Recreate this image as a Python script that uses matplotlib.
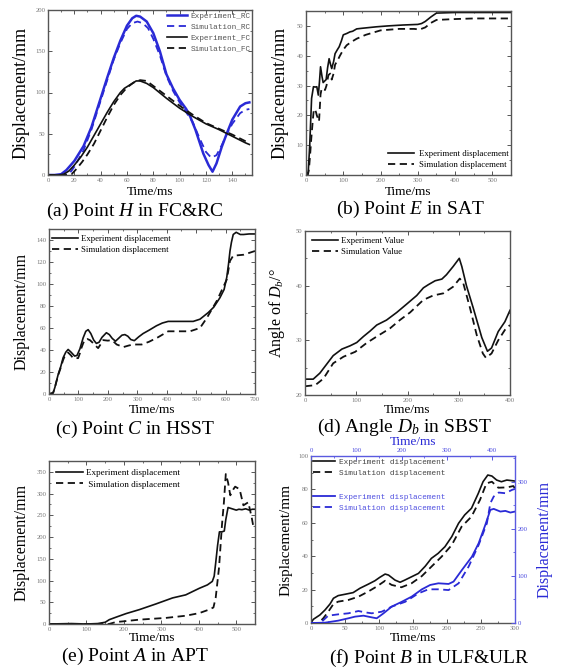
import matplotlib
matplotlib.use("Agg")
import matplotlib.pyplot as plt
from matplotlib.ticker import MultipleLocator

plt.rcParams['font.family'] = ['Liberation Serif', 'DejaVu Serif']
plt.rcParams['mathtext.fontset'] = 'custom'
plt.rcParams['mathtext.rm'] = 'Liberation Serif'
plt.rcParams['mathtext.it'] = 'Liberation Serif:italic'

# ---------------- data ----------------
# (a) Point H in FC&RC
a_t_exp_rc = [0, 5, 10, 14, 20, 27, 33, 39, 45, 50, 55, 60, 64, 67, 70, 75, 80, 85, 90, 95, 100, 105, 108, 112, 118, 122, 125, 128, 132, 136, 140, 146, 150, 153]
a_exp_rc = [0, 0, 1, 6, 17, 35, 58, 88, 118, 142, 163, 181, 190, 193, 192, 186, 172, 150, 122, 105, 91, 80, 71, 55, 26, 12, 4, 14, 34, 51, 67, 83, 87, 88]
a_t_sim_rc = [0, 5, 10, 16, 20, 27, 33, 39, 45, 50, 55, 60, 64, 68, 72, 76, 80, 85, 90, 95, 100, 105, 110, 115, 120, 124, 128, 132, 136, 140, 146, 150, 153]
a_sim_rc = [0, 0, 0, 1, 10, 30, 55, 85, 115, 140, 160, 177, 184, 186, 184, 178, 165, 145, 120, 102, 88, 76, 64, 45, 28, 21, 24, 36, 50, 62, 75, 79, 80]
a_t_exp_fc = [0, 8, 12, 16, 20, 25, 30, 35, 40, 45, 50, 55, 58, 62, 67, 70, 75, 80, 90, 100, 110, 120, 130, 140, 150, 153]
a_exp_fc = [0, 0, 1, 5, 12, 22, 34, 48, 62, 76, 89, 100, 105, 109, 114, 114, 111, 106, 93, 81, 71, 62, 55, 47, 39, 37]
a_t_sim_fc = [0, 15, 18, 22, 26, 30, 35, 40, 45, 50, 55, 60, 65, 70, 75, 80, 90, 100, 110, 120, 130, 140, 150, 153]
a_sim_fc = [0, 0, 1, 8, 16, 25, 38, 54, 70, 85, 97, 106, 112, 115, 114, 108, 96, 84, 73, 63, 56, 49, 41, 39]

# (b) Point E in SAT
b_t_exp = [0, 3, 6, 10, 15, 20, 25, 29, 33, 36, 39, 43, 46, 50, 54, 58, 62, 66, 69, 74, 78, 84, 89, 95, 100, 110, 118, 125, 136, 150, 189, 220, 260, 300, 310, 320, 335, 350, 400, 450, 500, 550]
b_exp = [0, 0.5, 1, 10, 25.7, 29.6, 29.5, 29.6, 26.8, 31, 36.3, 33, 31, 31.5, 32, 36, 39, 37, 35.7, 38, 40.7, 42, 43, 45, 47, 47.5, 48, 48.2, 49, 49.2, 49.7, 50, 50.3, 50.5, 50.8, 51.5, 53, 54.3, 54.5, 54.5, 54.5, 54.5]
b_t_sim = [0, 5, 8, 11, 14, 18, 21, 24, 27, 29, 32, 35, 39, 42, 45, 51, 55, 60, 65, 69, 74, 78, 85, 91, 100, 109, 120, 136, 160, 200, 250, 290, 305, 320, 335, 350, 400, 450, 500, 550]
b_sim = [0, 0, 2, 6.7, 12, 18, 22, 22, 21, 20, 19, 18, 27, 29, 29, 28.5, 30, 33.5, 34, 32, 34, 37, 38.5, 40, 42, 43.5, 44.5, 45.7, 47, 48.5, 49, 49, 48.8, 49.5, 51, 52, 52.3, 52.5, 52.5, 52.5]

# (c) Point C in HSST
c_t_exp = [0, 14, 20, 31, 40, 48, 57, 65, 75, 87, 95, 105, 116, 125, 133, 142, 152, 161, 170, 180, 195, 205, 215, 226, 238, 248, 258, 268, 278, 290, 305, 320, 340, 365, 385, 405, 450, 490, 513, 541, 560, 581, 595, 604, 610, 615, 620, 626, 636, 650, 661, 680, 700]
c_exp = [0, 1, 6, 17.6, 25, 33, 38, 40.5, 38, 34.5, 35, 41, 51, 57, 58.5, 55, 49, 46, 47, 51.5, 55.7, 54, 50.5, 48, 51, 53.5, 54, 52.5, 49.5, 48.5, 52, 55, 58, 62, 64.5, 66, 66, 66, 68, 74, 79, 87.6, 95, 106, 118, 130, 138, 145, 147, 145, 145, 145.5, 145.5]
c_t_sim = [0, 14, 20, 31, 40, 48, 53, 59, 65, 75, 82, 99, 105, 110, 116, 121, 130, 139, 147, 155, 167, 175, 184, 200, 213, 222, 230, 240, 252, 270, 286, 315, 340, 370, 405, 440, 479, 513, 536, 570, 604, 615, 626, 661, 700]
c_sim = [0, 1, 6, 17, 24, 31, 34, 36, 37.7, 35, 32.6, 32.6, 37, 41.7, 46, 49, 50, 49, 47, 44.7, 41.7, 45, 49, 48.5, 49, 47, 45, 44, 42.6, 44, 45, 45, 47.5, 51.5, 57, 57, 57, 60, 69, 84.6, 104, 121, 125.7, 126.6, 130]

# (d) Angle Db in SBST
d_t_exp = [0, 16, 29, 42, 55, 72, 88, 101, 114, 127, 140, 159, 179, 198, 218, 231, 241, 254, 267, 276, 289, 301, 306, 315, 328, 345, 356, 364, 377, 390, 400]
d_exp = [22.9, 22.9, 24, 25.6, 27.2, 28.4, 29, 29.6, 30.7, 31.7, 32.8, 33.7, 35.1, 36.6, 38.2, 39.6, 40.2, 40.9, 41.2, 42, 43.5, 45, 43.5, 40, 36, 30.5, 28, 28.6, 31.6, 33.4, 35.5]
d_t_sim = [0, 20, 36, 55, 75, 98, 120, 140, 166, 185, 205, 231, 250, 270, 289, 302, 309, 322, 335, 347, 353, 364, 377, 390, 400]
d_sim = [21.6, 21.8, 23, 25.8, 27, 27.9, 29.5, 30.7, 32.2, 33.7, 35.1, 37.4, 38.2, 38.6, 39.8, 41.3, 40.4, 35.9, 31, 27.6, 26.8, 27.6, 30, 31.9, 32.8]

# (e) Point A in APT
e_t_exp = [0, 60, 100, 130, 150, 161, 180, 206, 241, 285, 330, 365, 401, 423, 436, 441, 445, 450, 455, 462, 468, 472, 478, 489, 500, 507, 515, 525, 535, 543, 550]
e_exp = [0, 1, 0, 1, 4, 10, 16, 24, 33, 46, 60, 67, 82, 90, 98, 110, 140, 180, 212, 212, 214, 240, 268, 265, 262, 264, 263, 265, 262, 264, 264]
e_t_sim = [0, 160, 179, 197, 241, 312, 365, 401, 427, 439, 445, 454, 462, 467, 472, 478, 484, 493, 497, 509, 519, 532, 541, 545, 550]
e_sim = [0, 0, 4.6, 6, 10, 14, 19, 25, 33, 38, 60, 130, 230, 280, 345, 326, 296, 311, 316, 310, 273, 280, 246, 227, 235]

# (f) Point B in ULF&ULR  (black: bottom/left axes; blue: top/right axes)
f_t_exp_k = [0, 3.4, 13, 20.6, 28, 33, 40, 50, 62, 72, 84, 94, 101, 109, 114, 123.5, 131, 138, 148, 158, 168, 177, 187, 197, 207, 217, 226, 236, 246, 253, 260, 266, 273, 280, 288, 300]
f_exp_k = [0, 2.2, 4.8, 7.8, 11.4, 14.8, 16.4, 17.2, 18.2, 20.8, 23.2, 25.3, 27.3, 29.3, 28.7, 25.7, 24.4, 25.7, 27.7, 29.7, 34, 38.7, 41.7, 45.7, 51.7, 59.7, 64.7, 68.7, 77.6, 84.6, 88.6, 88, 85.6, 84.6, 85.6, 85]
f_t_sim_k = [0, 11, 18, 25.5, 33, 40, 55, 70, 84, 96.5, 109, 118.6, 133, 148, 163, 177, 192, 207, 221.5, 236, 248.5, 258, 266, 275.5, 288, 297.5, 300]
f_sim_k = [0, 0, 2.8, 6.8, 11.4, 12.8, 13.8, 15.8, 18.8, 21.8, 25.3, 22.8, 21.4, 23.8, 28.1, 33.7, 39.7, 46.7, 57.7, 63.7, 73.7, 83.6, 84.6, 81, 81.2, 82, 80.6]
f_t_exp_b = [0, 31, 60, 82.5, 97, 115.7, 134, 145, 160, 178, 200, 222, 244.6, 263, 281, 303.5, 314.5, 333, 355, 369.8, 384.5, 395.6, 403, 417.7, 428.7, 439.8, 450]
f_exp_b = [0, 0.7, 5, 10, 13.5, 15.6, 12, 10, 20.6, 34.8, 45, 56, 71.6, 80.9, 84.4, 83, 88, 112.8, 141, 169.5, 208.5, 240.4, 242.6, 236.9, 238.3, 234.8, 236.9]
f_t_sim_b = [0, 15, 23.6, 38, 60, 82.5, 104.6, 119, 134, 156, 178, 207.7, 237, 259, 281, 303.5, 325.6, 347.7, 369.8, 388, 395.6, 403, 414, 428.7, 443.5, 450]
f_sim_b = [0, 0, 2.8, 15.6, 18.4, 20.6, 25.5, 22.7, 20.6, 24, 34.8, 45, 63, 71.6, 71.6, 70, 84.4, 119.9, 166, 212, 254.6, 268.8, 277.3, 275.9, 283, 285]

# ---------------- layout helpers ----------------
W, H = 564, 672
fig = plt.figure(figsize=(W / 100, H / 100), dpi=100)

BLUE = '#2a2ad6'
SPINE = '#555555'
TICKC = '#777777'
DASH = (0, (4, 2.5))


def add_ax(l, r, t, b):
    return fig.add_axes([l / W, 1 - b / H, (r - l) / W, (b - t) / H])


def style(ax, xlim, ylim, xmaj, ymaj, xmin=None, ymin=None):
    ax.set_xlim(*xlim)
    ax.set_ylim(*ylim)
    ax.xaxis.set_major_locator(MultipleLocator(xmaj))
    ax.yaxis.set_major_locator(MultipleLocator(ymaj))
    if xmin:
        ax.xaxis.set_minor_locator(MultipleLocator(xmin))
    if ymin:
        ax.yaxis.set_minor_locator(MultipleLocator(ymin))
    for s in ax.spines.values():
        s.set_color(SPINE)
        s.set_linewidth(1.0)
    ax.tick_params(which='both', direction='in', top=True, right=True,
                   color=SPINE, labelsize=4.8, labelcolor=TICKC, pad=2)
    ax.tick_params(which='major', length=3, width=0.7)
    ax.tick_params(which='minor', length=1.6, width=0.6)


def xlabel(ax, y_px, size=9.5):
    bb = ax.get_position()
    fig.text(bb.x0 + bb.width / 2, 1 - y_px / H, 'Time/ms', ha='center', va='center', fontsize=size)


def caption(x_px, y_px, txt):
    fig.text(x_px / W, 1 - y_px / H, txt, ha='center', va='center', fontsize=14)


# ---------------- (a) ----------------
ax = add_ax(48, 252, 10, 175)
ax.plot(a_t_exp_rc, a_exp_rc, color=BLUE, lw=1.8, label='Experiment_RC')
ax.plot(a_t_sim_rc, a_sim_rc, color=BLUE, lw=1.3, ls=DASH, label='Simulation_RC')
ax.plot(a_t_exp_fc, a_exp_fc, color='#111111', lw=1.2, label='Experiment_FC')
ax.plot(a_t_sim_fc, a_sim_fc, color='#111111', lw=1.3, ls=DASH, label='Simulation_FC')
style(ax, (0, 155), (0, 200), 20, 50, 10, 25)
ax.set_ylabel('Displacement/mm', fontsize=13, labelpad=4)
leg = ax.legend(loc='upper left', bbox_to_anchor=(0.57, 1.0), frameon=False,
                prop={'family': 'Liberation Mono', 'size': 5.6}, handlelength=2.6,
                handletextpad=0.5, labelspacing=0.45, borderpad=0.3, borderaxespad=0)
for t in leg.get_texts():
    t.set_color('#555555')
xlabel(ax, 192)
caption(135, 211, r'(a) Point $\mathit{H}$ in FC&RC')

# ---------------- (b) ----------------
ax = add_ax(306, 511, 11, 175)
ax.plot(b_t_exp, b_exp, color='#111111', lw=1.2, label='Experiment displacement')
ax.plot(b_t_sim, b_sim, color='#111111', lw=1.3, ls=DASH, label='Simulation displacement')
style(ax, (0, 550), (0, 55), 100, 10, 50, 5)
ax.set_ylabel('Displacement/mm', fontsize=13, labelpad=6)
ax.legend(loc='lower right', bbox_to_anchor=(1.0, 0.02), frameon=False,
          prop={'size': 6.3}, handlelength=3.0, handletextpad=0.5,
          labelspacing=0.35, borderpad=0.3, borderaxespad=0)
xlabel(ax, 192)
caption(410, 209, r'(b) Point $\mathit{E}$ in SAT')

# ---------------- (c) ----------------
ax = add_ax(49, 255, 229, 394)
ax.plot(c_t_exp, c_exp, color='#111111', lw=1.2, label='Experiment displacement')
ax.plot(c_t_sim, c_sim, color='#111111', lw=1.3, ls=DASH, label='Simulation displacement')
style(ax, (0, 700), (0, 150), 100, 20, 50, 10)
ax.set_ylabel('Displacement/mm', fontsize=11.5, labelpad=5)
ax.legend(loc='upper left', bbox_to_anchor=(0.0, 0.98), frameon=False,
          prop={'size': 6.3}, handlelength=3.0, handletextpad=0.4,
          labelspacing=0.35, borderpad=0.3, borderaxespad=0)
xlabel(ax, 410)
caption(135, 429, r'(c) Point $\mathit{C}$ in HSST')

# ---------------- (d) ----------------
ax = add_ax(305, 510, 231, 395)
ax.plot(d_t_exp, d_exp, color='#111111', lw=1.2, label='Experiment Value')
ax.plot(d_t_sim, d_sim, color='#111111', lw=1.3, ls=DASH, label='Simulation Value')
style(ax, (0, 400), (20, 50), 100, 10, 50, 5)
ax.set_ylabel(r'Angle of $\mathit{D_b}$/°', fontsize=11.5, labelpad=6)
ax.legend(loc='upper left', bbox_to_anchor=(0.02, 0.98), frameon=False,
          prop={'size': 6.3}, handlelength=3.0, handletextpad=0.3,
          labelspacing=0.35, borderpad=0.3, borderaxespad=0)
xlabel(ax, 410)
caption(404, 427, r'(d) Angle $\mathit{D_b}$ in SBST')

# ---------------- (e) ----------------
ax = add_ax(49, 255, 461, 624)
ax.plot(e_t_exp, e_exp, color='#111111', lw=1.2, label='Experiment displacement')
ax.plot(e_t_sim, e_sim, color='#111111', lw=1.3, ls=DASH, label=' Simulation displacement')
style(ax, (0, 550), (0, 375), 100, 50, 50, 25)
ax.set_ylabel('Displacement/mm', fontsize=11.5, labelpad=5)
ax.legend(loc='upper left', bbox_to_anchor=(0.02, 0.97), frameon=False,
          prop={'size': 6.6}, handlelength=3.0, handletextpad=0.3,
          labelspacing=0.35, borderpad=0.3, borderaxespad=0)
xlabel(ax, 638)
caption(135, 656, r'(e) Point $\mathit{A}$ in APT')

# ---------------- (f) ----------------
ax = add_ax(311, 515, 456, 623)
k1, = ax.plot(f_t_exp_k, f_exp_k, color='#111111', lw=1.2, label='Experiment displacement')
k2, = ax.plot(f_t_sim_k, f_sim_k, color='#111111', lw=1.3, ls=DASH, label='Simulation displacement')
style(ax, (0, 300), (0, 100), 50, 20, 25, 10)
ax.tick_params(which='both', top=False, right=False)
ax.spines['top'].set_visible(False)
ax.spines['right'].set_visible(False)
ax.set_ylabel('Displacement/mm', fontsize=11, labelpad=4)

axb = fig.add_axes(ax.get_position(), frameon=True)
axb.patch.set_alpha(0)
b1, = axb.plot(f_t_exp_b, f_exp_b, color=BLUE, lw=1.3, label='Experiment displacement')
b2, = axb.plot(f_t_sim_b, f_sim_b, color=BLUE, lw=1.3, ls=DASH, label='Simulation displacement')
axb.set_xlim(0, 450)
axb.set_ylim(0, 355)
axb.xaxis.set_major_locator(MultipleLocator(100))
axb.yaxis.set_major_locator(MultipleLocator(100))
axb.xaxis.set_minor_locator(MultipleLocator(50))
axb.yaxis.set_minor_locator(MultipleLocator(50))
axb.xaxis.tick_top()
axb.yaxis.tick_right()
axb.xaxis.set_label_position('top')
axb.yaxis.set_label_position('right')
for side in ('left', 'bottom'):
    axb.spines[side].set_visible(False)
for side in ('top', 'right'):
    axb.spines[side].set_color('#5a5ae0')
    axb.spines[side].set_linewidth(1.0)
axb.tick_params(which='both', direction='in', color='#5a5ae0', labelsize=4.8,
                labelcolor='#4848e0', pad=2)
axb.tick_params(which='major', length=3, width=0.7)
axb.tick_params(which='minor', length=1.6, width=0.6)
axb.set_ylabel('Displacement/mm', fontsize=11.5, color=BLUE, labelpad=6)
axb.set_xlabel('Time/ms', fontsize=9.5, color=BLUE, labelpad=2)

lk = axb.legend(handles=[k1, k2], loc='upper left', bbox_to_anchor=(0.0, 1.0), frameon=False,
                prop={'family': 'Liberation Mono', 'size': 5.6}, handlelength=2.8,
                handletextpad=0.5, labelspacing=0.45, borderpad=0.3, borderaxespad=0)
for t in lk.get_texts():
    t.set_color('#444444')
axb.add_artist(lk)
lb = axb.legend(handles=[b1, b2], loc='upper left', bbox_to_anchor=(0.0, 0.79), frameon=False,
                prop={'family': 'Liberation Mono', 'size': 5.6}, handlelength=2.8,
                handletextpad=0.5, labelspacing=0.45, borderpad=0.3, borderaxespad=0)
for t in lb.get_texts():
    t.set_color('#5050e0')

xlabel(ax, 638)
caption(429, 658, r'(f) Point $\mathit{B}$ in ULF&ULR')

fig.savefig('out.png', dpi=100)
